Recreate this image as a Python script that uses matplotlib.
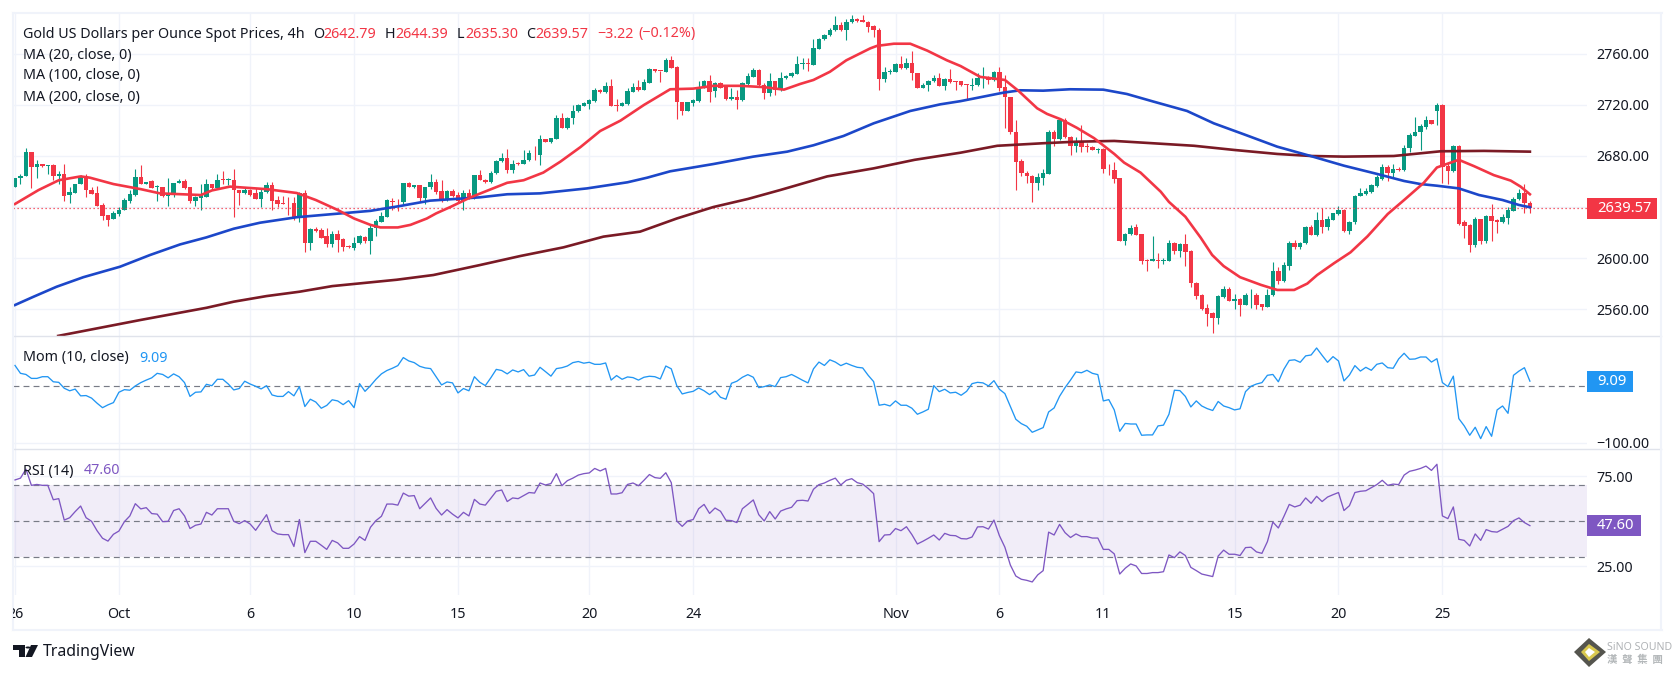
import numpy as np
import matplotlib
matplotlib.use('Agg')
import matplotlib.pyplot as plt
from matplotlib.patches import Polygon, FancyBboxPatch, Circle
from matplotlib.transforms import Bbox

W, H = 1675, 674

opens = [2656,2662.5,2664.5,2683,2671,2673.5,2672.5,2673,2664,2666,2649.5,2651,2658,2663.5,2653,2651,2641.5,2634,2631,2634.5,
 2638,2645,2649.5,2663.5,2658,2660.5,2656,2655.5,2649,2649.5,2659,2660.5,2656,2644.5,2647,2648,2658,2655,2661.5,2661,
 2661,2653,2651,2653.5,2651,2646.5,2651.5,2657.5,2645.5,2643,2642.5,2643,2632,2651,2612,2623,2622,2617,2611,2619,
 2615,2609.5,2608,2611.5,2616.5,2613,2623.5,2628.5,2632.5,2645,2645,2644,2659,2656,2657,2647,2655.5,2660,2652.5,2645.5,
 2652.5,2649.5,2645,2651,2647,2665,2661.5,2660,2667,2676,2678.5,2669,2674.5,2674,2676.5,2682.5,2681,2693,2691,2693.5,
 2710,2702,2709.5,2715,2719.5,2720.5,2723,2732,2730,2735,2720,2719.5,2721,2730,2734,2732,2737.5,2748,2747,2746,
 2755,2750,2722,2715.5,2721.5,2723,2733.5,2739,2731,2737,2734,2725,2726,2724,2736.5,2742,2747.5,2735.5,2729.5,2738.5,
 2732,2741,2742.5,2744.5,2752,2753,2751.5,2764,2772,2774.5,2779,2783,2778.5,2785,2787,2786.5,2785,2782,2779,2740.5,
 2746,2746,2752,2749,2752.5,2745,2733.5,2736,2738.5,2741.5,2735,2740,2738.5,2738.5,2736,2735,2735.5,2741.5,2742,2739.5,
 2746,2734,2726,2699,2676,2667,2664,2659,2663,2666,2699,2693,2708,2695,2687.5,2692,2688,2687,2685,2685.5,
 2670,2669,2662.5,2613.5,2618.5,2624,2619,2598.5,2598,2598.5,2597.5,2598,2612,2605.5,2611,2605.5,2580.5,2571,2560.5,2557,
 2553,2569.5,2575.5,2566.5,2568,2563,2570,2571,2564,2562,2571,2590,2582,2594,2612,2608.5,2611.5,2624,2618,2630,
 2624,2630,2634.5,2638,2621,2628,2649,2650.5,2652,2656.5,2662,2671.5,2667,2670,2669,2686,2696,2698.5,2703,2708,
 2715.5,2720,2672,2668,2687.5,2628,2626,2610,2630.5,2613,2633,2630,2628,2631.5,2637,2646,2651,2642.79]
highs = [2662.5,2666,2686,2683,2677,2673.5,2673,2674,2668,2674,2656,2658,2665,2666,2656,2656.5,2643,2634,2637,2640,
 2647,2653,2670,2673,2660,2661,2657,2656,2663,2659,2662,2662,2656,2648.5,2658,2662,2658,2666,2668,2662.5,
 2670,2653.5,2655,2654,2655,2655,2659.5,2659.5,2649,2649,2648,2648,2652,2653,2623.5,2624,2623.5,2623.5,2621.5,2622,
 2616,2610,2616.5,2618,2617,2627,2631,2636,2646.5,2647,2646,2659,2659.5,2657,2657,2656,2666,2662,2661,2653,
 2654,2652,2653,2654,2665,2669,2662,2668,2677,2682,2685.5,2677,2675,2685,2685,2688,2696.5,2693.5,2694,2712,
 2714,2710.5,2720,2721,2722,2725,2733,2732.5,2738,2740.5,2725,2722,2733,2737,2739.5,2740,2749,2748.5,2747,2757,
 2758,2750.5,2722.5,2722.5,2725,2739,2739.5,2743.5,2738,2738,2735,2733,2732,2738,2745,2749,2748,2737,2745,2739,
 2745.5,2743.5,2746,2758,2757,2756.5,2771.5,2772.5,2775.5,2780,2790,2785,2787,2790.5,2788.5,2790.5,2786,2783,2780,2750,
 2748.5,2752.5,2758,2756.5,2762,2745,2737,2739.5,2743.5,2745,2741,2748,2739,2739,2736.5,2741.5,2745,2749.5,2743,2747,
 2749.5,2743.5,2726.5,2708,2678,2668,2665,2667,2670,2700,2700.5,2710,2710,2695.5,2695,2704,2690,2688,2686,2686.5,
 2674,2675,2663,2620,2626,2627,2619,2599,2617.5,2604,2600,2614,2612.5,2612,2619,2606,2581,2572,2564,2558,
 2571,2578,2577,2572,2569,2572.5,2575.5,2572.5,2564,2575.5,2597,2593,2597,2613.5,2614.5,2612.5,2625,2626,2636,2639,
 2633,2635.5,2641,2638.5,2629,2649.5,2655,2655,2658,2665,2674,2673,2674,2671.5,2688.5,2698,2710.5,2705,2711.5,2708.5,
 2721.5,2720.5,2675,2689,2689,2630,2626.5,2632,2631,2633.5,2642.5,2630.5,2634.5,2640,2648,2654,2658,2644.39]
lows = [2656,2658,2664,2655,2663,2671,2666,2661,2658,2645,2643,2651,2658,2648,2650,2641,2630,2625,2631,2633,
 2638,2643,2649,2658,2658,2655,2645,2648,2641,2648,2659,2654,2643,2641,2638,2648,2653,2655,2658,2657,
 2632.5,2641.5,2650,2649,2646,2640,2651,2638,2640,2642,2634,2630,2628,2605,2606,2620.5,2616,2609,2609,2605,
 2605.5,2608,2606,2611,2612,2603,2617,2628,2632,2638,2636.5,2642,2656,2655,2644,2642,2654,2650,2644,2645,
 2648,2644,2638,2646,2646,2661,2659,2659,2666,2675,2667,2667,2673,2674,2676,2677,2673,2691,2690.5,2693,
 2702,2701.5,2705,2714.5,2719,2717,2722,2729,2729.5,2719,2715,2719,2720,2730,2731,2732,2737,2746,2738,2746,
 2749,2709,2712,2715,2719.5,2722,2733,2722.5,2726.5,2733,2724,2724,2717,2723,2736,2742,2735,2725,2727,2728,
 2731,2740.5,2742,2744,2748,2747,2751,2764,2771,2774,2778,2778,2771,2784.5,2785,2785,2777,2773.5,2732,2738,
 2744,2745.5,2748.5,2748.5,2739.5,2733,2733,2731,2738,2735,2731.5,2737.5,2732,2735,2725,2731.5,2735,2733.5,2736.5,2739,
 2731,2702,2697,2653,2664.5,2659,2644,2653,2657.5,2665.5,2688,2692.5,2694,2681,2683,2683,2683,2684.5,2682,2667,
 2665,2659,2613,2610.5,2618,2618,2595,2590,2597.5,2592,2595,2597.5,2603,2601,2594,2577.5,2568,2559,2547,2541,
 2548,2569,2566,2560,2554.5,2563,2560.5,2560,2559,2561.5,2570,2580,2581,2590.5,2607,2607,2611,2618,2617.5,2620,
 2622,2629.5,2634,2620.5,2619,2627,2648.5,2649.5,2651,2656,2661.5,2660.5,2663,2668.5,2668.5,2683.5,2695.5,2684.5,2701,2705,
 2704.5,2658.5,2658,2667.5,2626,2616,2605,2609,2611,2612,2613.5,2620,2627.5,2627,2636.5,2645.5,2635.5,2635.30]
closes = [2662.5,2664,2683,2671,2673.5,2672.5,2673,2664,2665.5,2649,2652,2658,2663.5,2653,2650,2641,2633,2630,2635,2638,
 2645.5,2650,2663.5,2658,2660,2655,2656.5,2649,2650,2659,2660.5,2655,2645,2648,2650,2658,2655,2661,2661,2661.5,
 2653,2651,2653.5,2649.5,2646.5,2652,2657.5,2645,2642.5,2642.5,2642,2632,2651,2612,2623,2621.5,2616,2611,2619,2614,
 2609,2609,2612,2617,2613,2623.5,2629,2633,2645.5,2644,2644.5,2659,2656,2657,2647,2655.5,2660,2652,2645.5,2652.5,
 2649,2645,2651,2647,2665,2661.5,2660,2667,2676,2678.5,2669,2674,2674,2677,2682,2682,2693,2691,2694,2710,
 2702,2710,2715,2720,2721.5,2724,2732,2730,2735,2719,2719.5,2721.5,2731,2734,2732,2738,2748,2746.5,2746.5,2755,
 2749,2722,2715.5,2722,2723.5,2734,2739,2730.5,2737,2733.5,2725,2726,2724,2737,2743,2747.5,2735.5,2729.5,2738.5,2732,
 2741,2743,2745,2752,2753,2752,2764.5,2772,2775,2779,2783,2778.5,2785,2787,2786,2785,2781.5,2779,2740.5,2746,
 2746.5,2752,2749,2752.5,2745,2733.5,2736,2739,2741.5,2735,2740,2738,2738,2735.5,2735.5,2736,2741.5,2742,2739.5,2746,
 2733.5,2726,2699,2675,2667,2664,2659,2663.5,2666.5,2699,2693,2708,2695,2687.5,2692,2687,2687,2685,2685.5,2670,
 2669.5,2662,2613.5,2619,2623.5,2618,2598,2598,2599,2598,2598.5,2612,2605.5,2611,2605,2580.5,2570,2560,2556,2553,
 2570,2575.5,2566.5,2568,2563,2571,2570.5,2563,2562,2571,2590,2582,2594.5,2612,2608.5,2612,2624,2618,2630,2624,
 2630.5,2635,2638,2621,2628.5,2649,2651,2652.5,2657,2663.5,2671.5,2667,2670,2669,2686,2696.5,2699,2703.5,2708,2705,
 2720,2671,2668,2687.5,2627,2625.5,2610,2630.5,2613,2633,2629,2628,2632,2637.5,2646.5,2651,2642.79,2639.57]

ma20_i = [0,4.3,8,12,13.7,18,23,26.5,34,36,39.3,46,51.5,55,59,62,65,66.8,70,72.3,75.3,77,79.6,83,85,90,93,96.6,99.7,103.4,107,110.7,115,119.8,124,127.7,132.6,136.9,140.6,143.6,146,149,152,156.4,157.6,160.7,163.7,166.8,170.4,172.9,176.5,181,183.5,186.9,188.7,191.2,194.2,197.3,201,202.8,205.8,209.5,211,214,216.8,218.9,221,224,227.8,230.8,233.9,236.3,238.1,241.2,244.2,247.3,251,254,257.6,260,261.3,264,266.8,270.4,273.5,275.3,277]
ma20_v = [2642.4,2653.3,2661,2664,2663,2658,2654,2650.7,2649.4,2653,2656,2654,2651,2645.5,2637.7,2631,2626,2624,2624,2626,2631,2635,2640,2647,2650.5,2659,2661,2667,2675.5,2687,2699.6,2707.7,2720,2732.3,2732.8,2735,2735,2734,2732,2736.5,2739.6,2746,2755,2764.4,2766.3,2768,2768,2762.6,2755,2750.5,2742,2739.6,2731,2717.4,2713,2708.8,2702,2694,2681.6,2674.8,2667,2652,2644,2632.4,2616,2602.4,2593.7,2585,2579,2575,2575,2580,2586.7,2596,2604.5,2617,2634.5,2645.5,2659,2671,2673,2677,2672,2665,2660.7,2656,2650]
ma100_i = [0,3.4,7.6,12.5,19.2,24.7,30.2,35,40,44.8,51.5,58.2,65,70.4,75.9,85,90,96,104.6,112,115.6,119.8,127.7,135,141.2,146,151.5,157,163.7,169.2,172.9,180.8,183.8,188,192.9,199,203.3,208.2,214.3,219.2,224.7,230.8,236.9,243,249,254,257,260,264,267.7,272,275,277]
ma100_v = [2563.2,2569.7,2577.5,2585,2593.2,2602.4,2610.7,2616.2,2623,2627.7,2632,2634.5,2637,2640.8,2645,2647.6,2650,2650.7,2654.6,2659.4,2663,2668,2673.7,2679.5,2683.4,2688.4,2695.7,2705.6,2715.3,2720.5,2723,2729.7,2731.5,2731.2,2732.3,2732,2728.6,2722.6,2715.3,2705.6,2697,2687.3,2680,2672.4,2666,2660.4,2658,2656.7,2654.6,2649.4,2645.5,2641.6,2639.8]
ma200_i = [7.9,23,35,40,46,52,58,69.8,76.5,85,92.4,100.3,107.6,114.3,121,127.7,134,139.9,148.5,157,164.5,172.9,179.6,188,194,201,208,215.6,223,230.8,237,243,252.1,260.7,268.6,277]
ma200_v = [2539,2551.5,2561,2565.8,2570.2,2573.6,2578,2583,2586.7,2594.5,2601.6,2608.4,2616.8,2620.7,2631,2640,2646.3,2653.3,2664,2670.3,2677,2682.6,2688,2690,2691.2,2691.8,2690,2688,2684.7,2681.6,2680,2679.5,2680,2683.7,2684,2683.4]

mom = [37,23,21,14,14,17,17,8,7,-3.5,-8,-5,-17,-16.5,-21,-30,-38,-33,-29,-10.6,
 -6,-7,0.6,6.5,11,15,23,21,15,22,17,6.5,-18,-10.6,-10,3.5,1,12.4,12.4,4,
 -6.5,-4,9,4,0,-4.7,1,-15.4,-18,-18,-9.5,-17,-0.6,-36,-23,-28,-39,-34,-24,-26,
 -32.6,-25.5,-38,4.7,-9,1,12.4,22,28,32,36.7,51,45,42,35.5,32.6,31.4,17,2.4,7.7,
 6,-11.8,-4,-8,17,7,1.2,15,30,28,22,29,25.5,29.6,18,20,33.7,26,18,31.4,
 33,36,42,44,41,42.6,39,39,41.4,11,19,12.4,16.6,15.4,11,16,17.8,17,13,36,
 31,1.2,-13.6,-11,-9,-3,-8,-14.8,-8,-19.5,-23,5.3,9,16,20.7,16,-2.4,-0.6,2.4,-0.6,
 15.4,17,21,16,10.7,6,31,43,37,47,43,36.7,41,37,33.7,32.6,19.5,8.3,-33.7,-32,
 -35,-26,-33.7,-33.7,-39,-49.7,-45.6,-40.8,1.2,-9.5,-5.3,-11.8,-10.6,-16,-9,4.7,7,6,0.6,10,
 -5.3,-13,-36,-58.6,-66.3,-71,-81.7,-77.5,-73.4,-45.6,-38.5,-17.8,-2.4,11,25.5,24,28.4,23,20.7,-26,
 -23.7,-42,-80,-66,-67,-67,-87,-86.4,-86.4,-70.4,-69,-49.7,-7,-7.7,-18,-36.7,-26,-35,-39.7,-43,
 -27,-35,-38,-42,-40,-9.5,0,4,6.5,19.5,21,8,30,46,47,42.6,54,55.6,68,55,
 42.6,52.7,45,9.5,20,36.7,27,33.7,28.4,39,41.4,33,32,48.5,58.6,48,48.5,52,52,43,
 49,6.5,-0.6,18,-57.4,-70.4,-87,-72.8,-93,-71.6,-88.8,-42,-35,-48,19.5,27,33,9.09]
rsi = [73,74,79,70,70.5,70,70,62,62.6,50.7,52,55.4,58.5,52,50,44.8,40.6,39,42.8,44.6,
 49.8,53,59.8,56.9,57.6,54.3,54,49.8,50,56,57,53,46,47.8,48.5,55,53.5,57,57,57,
 50,48.7,50.4,48.5,45,49.4,53.7,44.8,43,42.6,42.6,36,51,32.6,38.9,38.9,36.7,34.4,39.4,38,
 35,35,37.4,41.5,39.4,46.7,50.4,52.8,59.6,59.6,59,65.7,64,64.3,57,60,63,57.2,53.5,56.5,
 54,51.9,55,53,62.2,59.6,59,62.8,66.7,67.4,61,63,62.6,64.3,66,65.7,71.3,70.2,71,76.5,
 69.8,72.6,74,75.7,76.5,76.9,79.4,78,79.4,65.2,65.2,65.9,70.5,71.3,69.8,72.8,76,74.3,73.9,77,
 71.5,50.2,47.2,50.2,51,57,59.4,54.4,57.4,55.6,50.6,50.4,49.3,57,59.4,61.9,53.7,50.2,55.4,51.3,
 55.7,56.9,57.8,61.5,61.7,61.3,67.8,70.4,71.3,72.8,74,70.2,72.8,73.7,71.5,70.7,68.3,65.4,38.7,42.4,
 42.6,46,44.8,47,42.6,37.4,38.9,40.6,42.4,39.6,43.3,42.2,42,40.4,40.2,41.3,46.9,47,45.7,50.7,
 42,35.6,25.7,19.6,17.8,17.2,16.3,20.2,22.6,44,42.4,48.3,43.7,41,43,41.5,41.5,40.7,40.7,34.4,
 34.4,31.9,20.7,23.9,26.3,25.2,21,21,21.5,21.5,22,31.3,29.8,33,31,24.4,22.6,20.7,20,19.3,
 30.7,34,31.7,31.7,31,35.4,35.6,33,32.2,38.7,49.6,46.3,52.6,59.4,58,59,63,60,63.9,61,
 63.5,64.8,66,56,58.7,66,66.7,67,68.7,70.4,72.8,70,70.7,70.4,75.7,77.8,78.5,79.4,80.7,78.3,
 81.7,53,51.5,58,40,39.4,36.3,43,39.4,45.4,44.3,44,45.6,47.2,50.4,51.9,49.3,47.6]

time_ticks = [0,19,43,62,81,105,124,161,180,199,223,242,261]
time_labels = ['26','Oct','6','10','15','20','24','Nov','6','11','15','20','25']
price_ticks = [2560,2600,2640,2680,2720,2760]
price_labels = ['2560.00','2600.00','','2680.00','2720.00','2760.00']
last_close = 2639.57

for name, s in [('o', opens), ('h', highs), ('l', lows), ('c', closes), ('mom', mom), ('rsi', rsi)]:
    if len(s) != 278:
        raise ValueError(name + ' has ' + str(len(s)))

RED = '#F23645'
GREEN = '#089981'
BLUE = '#1C47C9'
DARK = '#7A1A25'
MOM = '#2196F3'
RSI = '#7E57C2'
GRID = '#F0F3FA'
EDGE = '#E0E3EB'
TEXT = '#131722'
FONT = 'Noto Sans'
FS = 10.3

plt.rcParams['font.family'] = [FONT, 'DejaVu Sans']
fig = plt.figure(figsize=(W / 100, H / 100), dpi=100, facecolor='white')


def panel(top, bottom, left=13, right=1587):
    ax = fig.add_axes([left / W, 1 - bottom / H, (right - left) / W, (bottom - top) / H])
    ax.set_xlim(-0.366, 287.44)
    for s in ax.spines.values():
        s.set_visible(False)
    ax.set_xticks(time_ticks)
    ax.tick_params(length=0, labelbottom=False, labelleft=False, labelright=True,
                   labelsize=FS, labelcolor=TEXT, pad=7)
    ax.yaxis.tick_right()
    ax.grid(True, color=GRID, linewidth=1.0)
    ax.set_axisbelow(True)
    return ax


def ftext(x, y, s, **kw):
    kw.setdefault('fontsize', FS)
    kw.setdefault('color', TEXT)
    kw.setdefault('va', 'center')
    return fig.text(x / W, 1 - y / H, s, **kw)


def tag(x0, x1, y0, y1, color, s):
    fig.add_artist(FancyBboxPatch((x0 / W, 1 - y1 / H), (x1 - x0) / W, (y1 - y0) / H,
                                  boxstyle='square,pad=0', transform=fig.transFigure,
                                  facecolor=color, edgecolor='none'))
    ftext(x0 + 10, (y0 + y1) / 2, s, color='white', fontsize=FS + 0.3)


# price pane
ax = panel(14, 336)
ax.set_ylim(2538.9, 2791.3)
ax.set_yticks(price_ticks)
ax.set_yticklabels(price_labels)
idx = np.arange(len(closes))
o, h, l, c = map(np.array, (opens, highs, lows, closes))
up = c >= o
cols = np.where(up, GREEN, RED)
ax.vlines(idx, l, h, colors=cols, linewidth=0.8, zorder=2)
ax.bar(idx, np.maximum(np.abs(c - o), 0.6), bottom=np.minimum(o, c), width=0.82,
       color=cols, linewidth=0, zorder=3)
ax.axhline(last_close, color=RED, linewidth=0.9, linestyle=(0, (1, 2.2)), zorder=4)
ax.plot(ma200_i, ma200_v, color=DARK, linewidth=1.9, zorder=5)
ax.plot(ma100_i, ma100_v, color=BLUE, linewidth=1.9, zorder=6)
ax.plot(ma20_i, ma20_v, color=RED, linewidth=1.9, zorder=7)

# momentum pane
ax2 = panel(336, 449)
ax2.set_ylim(-111.4, 89.3)
ax2.set_yticks([-100])
ax2.set_yticklabels(['\u2212100.00'])
ax2.axhline(0, color='#787B86', linewidth=0.85, linestyle=(0, (5, 3.5)))
ax2.plot(idx, mom, color=MOM, linewidth=0.95)

# rsi pane
ax3 = panel(449, 595)
ax3.set_ylim(9.05, 90.2)
ax3.set_yticks([25, 75])
ax3.set_yticklabels(['25.00', '75.00'])
ax3.axhspan(30, 70, color=RSI, alpha=0.1, linewidth=0)
for lvl in (30, 50, 70):
    ax3.axhline(lvl, color='#787B86', linewidth=0.85, linestyle=(0, (5, 3.5)))
ax3.plot(idx, rsi, color=RSI, linewidth=0.95)


# frame and separators
def hline(y, x0, x1, color, lw=1.0):
    fig.add_artist(plt.Line2D([x0 / W, x1 / W], [1 - y / H, 1 - y / H], color=color, linewidth=lw))


def vline(x, y0, y1, color, lw=1.0):
    fig.add_artist(plt.Line2D([x / W, x / W], [1 - y0 / H, 1 - y1 / H], color=color, linewidth=lw))


hline(336, 13, 1661, EDGE)
hline(449, 13, 1661, EDGE)
hline(13, 13, 1662, GRID, 1.5)
hline(630, 13, 1662, GRID, 1.5)
vline(13, 13, 630, GRID, 1.5)
vline(1661, 13, 630, GRID, 1.5)

# time axis, the first label is cut by the frame
for t, s in zip(time_ticks, time_labels):
    px = 15 + 5.469 * t
    lab = ftext(px, 615, s, ha='center', fontweight='bold' if s in ('Oct', 'Nov') else 'normal')
    if t == 0:
        lab.set_clip_on(True)
        lab.set_clip_box(Bbox([[13, 0], [60, 100]]))

# legend rows
ftext(23, 34, 'Gold US Dollars per Ounce Spot Prices, 4h')
ftext(313, 34, 'O')
ftext(323, 34, '2642.79', color=RED)
ftext(385, 34, 'H')
ftext(395, 34, '2644.39', color=RED)
ftext(457, 34, 'L')
ftext(465, 34, '2635.30', color=RED)
ftext(526, 34, 'C')
ftext(535, 34, '2639.57', color=RED)
ftext(597, 34, '\u22123.22', color=RED)
ftext(638, 34, '(\u22120.12%)', color=RED)
ftext(23, 55, 'MA (20, close, 0)')
ftext(23, 76, 'MA (100, close, 0)')
ftext(23, 97, 'MA (200, close, 0)')
ftext(23, 358, 'Mom (10, close)')
ftext(139, 358, '9.09', color=MOM)
ftext(23, 471, 'RSI (14)')
ftext(84, 471, '47.60', color=RSI)

# last value tags
tag(1587, 1657, 198, 219, RED, '2639.57')
tag(1587, 1633, 371, 392, MOM, '9.09')
tag(1587, 1641, 515, 536, RSI, '47.60')


# tradingview mark
def poly(pts, color):
    fig.add_artist(Polygon([(x / W, 1 - y / H) for x, y in pts], closed=True,
                           transform=fig.transFigure, facecolor=color, edgecolor='none'))


poly([(13, 645), (25, 645), (25, 657), (19, 657), (19, 650), (13, 650)], TEXT)
poly([(31, 645), (38, 645), (32, 657), (25.5, 657)], TEXT)
fig.add_artist(Circle((28 / W, 1 - 647.5 / H), 0.0015, transform=fig.transFigure, facecolor=TEXT, edgecolor='none'))
ftext(43, 652, 'TradingView', fontsize=11.4)

# watermark
poly([(1589, 638), (1606, 652), (1589, 667), (1574, 652)], '#55554E')
poly([(1589, 644), (1600, 652), (1589, 661), (1581, 652)], '#D9C84E')
poly([(1589, 648), (1595, 652), (1589, 657), (1585, 652)], 'white')
ftext(1607, 647, 'SiNO SOUND', fontsize=7.6, color='#B0B3B6', fontweight='bold')
ftext(1607, 660, '\u6f22  \u8072  \u96c6  \u5718', fontsize=7.5, color='#B4B8BA',
      family=['Noto Sans CJK TC', 'DejaVu Sans'], fontweight='bold')

fig.savefig('out.png', dpi=100, facecolor='white')
